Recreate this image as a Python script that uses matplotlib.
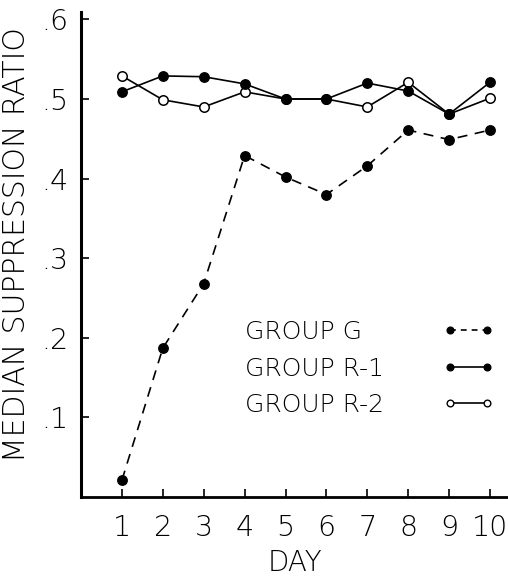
import matplotlib
matplotlib.use("Agg")
import matplotlib.pyplot as plt
from matplotlib.lines import Line2D

days = [1, 2, 3, 4, 5, 6, 7, 8, 9, 10]
group_g = [0.021, 0.187, 0.268, 0.429, 0.402, 0.380, 0.416, 0.461, 0.449, 0.461]
group_r1 = [0.509, 0.529, 0.528, 0.519, 0.500, 0.500, 0.520, 0.510, 0.481, 0.521]
group_r2 = [0.529, 0.499, 0.490, 0.509, 0.500, 0.500, 0.490, 0.521, 0.481, 0.501]
yticks = [0.1, 0.2, 0.3, 0.4, 0.5, 0.6]
ytick_labels = [".1", ".2", ".3", ".4", ".5", ".6"]
series_labels = ["GROUP G", "GROUP R-1", "GROUP R-2"]

plt.rcParams['font.family'] = ['DejaVu Sans']
plt.rcParams['font.weight'] = 200

fig = plt.figure(figsize=(5.08, 5.78), dpi=100)
ax = fig.add_axes([81 / 508, 81 / 578, 1 - 81 / 508, (497 - 12) / 578])

lw = 1.2
ms = 6.8
lg, = ax.plot(days, group_g, color='black', lw=lw, dashes=(6, 4.5),
              marker='o', ms=ms, mfc='black', mec='black', zorder=3)
lr2, = ax.plot(days, group_r2, color='black', lw=lw, marker='o', ms=ms,
               mfc='white', mec='black', mew=1.1, zorder=4)
lr1, = ax.plot(days, group_r1, color='black', lw=lw, marker='o', ms=ms,
               mfc='black', mec='black', zorder=5)

ax.set_xlim(0, (508 - 81) / 40.9)
ax.set_ylim(0, (497 - 12) / 796)
ax.set_xticks(days)
ax.set_xticklabels([str(d) for d in days])
ax.set_yticks(yticks)
ax.set_yticklabels(ytick_labels)

for s in ['top', 'right']:
    ax.spines[s].set_visible(False)
ax.spines['left'].set_linewidth(2.2)
ax.spines['bottom'].set_linewidth(2.0)
ax.tick_params(axis='both', direction='in', length=6, width=1.2,
               labelsize=20.5, colors='black')
ax.tick_params(axis='x', pad=12)
ax.tick_params(axis='y', pad=9)

ax.set_xlabel("DAY", fontsize=20, weight=200)
ax.set_ylabel("MEDIAN SUPPRESSION RATIO", fontsize=21.5, weight=200)
ax.xaxis.set_label_coords(0.5, (497 - 549) / 485)
ax.yaxis.set_label_coords((31 - 81) / 427, (497 - 245) / 485)

# legend: labels (left aligned) and handles in separate columns
lfs = 18
hs = [Line2D([], [], color='black', lw=lw, dashes=(3.5, 3), marker='o', ms=4.8, mfc='black', mec='black'),
      Line2D([], [], color='black', lw=lw, marker='o', ms=4.8, mfc='black', mec='black'),
      Line2D([], [], color='black', lw=lw, marker='o', ms=4.8, mfc='white', mec='black')]
invis = [Line2D([], [], lw=0, marker=None) for _ in hs]
anchor_y = (497 - 320) / 485
leg1 = ax.legend(invis, series_labels, loc='upper left',
                 bbox_to_anchor=((245 - 81) / 427, anchor_y),
                 frameon=False, fontsize=lfs, handlelength=0, handletextpad=0,
                 borderpad=0, borderaxespad=0, labelspacing=0.5)
ax.add_artist(leg1)
leg2 = ax.legend(hs, ["", "", ""], loc='upper left',
                 bbox_to_anchor=((442 - 81) / 427, anchor_y),
                 frameon=False, fontsize=lfs, handlelength=2.1, handletextpad=0,
                 numpoints=2, borderpad=0, borderaxespad=0, labelspacing=0.5)

fig.savefig("out.png", dpi=100)
